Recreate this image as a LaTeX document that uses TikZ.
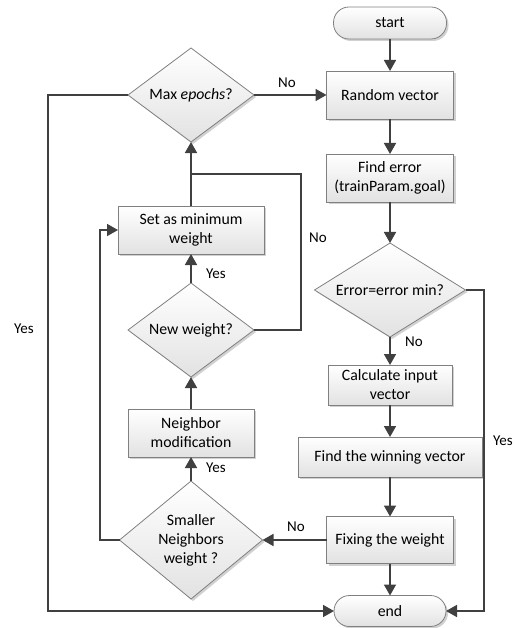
\documentclass[tikz,border=0pt]{standalone}
\usepackage{fontspec}
\setmainfont{Carlito}
\usetikzlibrary{shapes.geometric,arrows.meta,shadows}
\definecolor{lineC}{HTML}{404040}
\definecolor{bordC}{HTML}{808080}
\definecolor{botC}{HTML}{E2E2E2}
\tikzset{
  base/.style={draw=bordC, line width=0.8pt, top color=white, bottom color=botC,
    drop shadow={shadow xshift=2pt, shadow yshift=-2pt, fill=black!18, opacity=1},
    font=\fontsize{15.8}{19}\selectfont, align=center, inner sep=0pt, outer sep=0pt},
  procbox/.style={base, rectangle, minimum width=#1, minimum height=48pt},
  termbox/.style={base, rectangle, rounded corners=15.5pt, minimum width=#1, minimum height=31pt},
  dia/.style={base, diamond, minimum width=#1},
  conn/.style={draw=lineC, line width=1.7pt, -{Triangle[length=11pt,width=12pt]}},
  plain/.style={draw=lineC, line width=1.7pt},
  lab/.style={font=\fontsize{15}{18}\selectfont, inner sep=0pt},
  dtext/.style={font=\fontsize{15.8}{19}\selectfont, align=center}
}
\begin{document}
\begin{tikzpicture}[x=1pt,y=-1pt]
\useasboundingbox (0,0) rectangle (514,628);
% right column
\node[termbox=113pt, minimum height=32pt] (start) at (390,23) {start};
\node[procbox=127pt] (rv) at (390,95) {Random vector};
\node[procbox=127pt] (fe) at (390,178) {Find error\\(trainParam.goal)};
\node[dia=151pt, minimum height=94pt, label={[dtext]center:Error=error min?}] (err) at (390,290) {};
\node[procbox=124pt, minimum height=40pt] (calc) at (390,385) {Calculate input\\vector};
\node[procbox=184pt, minimum height=40pt] (win) at (390,457) {Find the winning vector};
\node[procbox=127pt, minimum height=47pt] (fix) at (390,540) {Fixing the weight};
\node[termbox=112pt] (end) at (390,611) {end};
% left column
\node[dia=126pt, minimum height=94pt, label={[dtext]center:Max \textit{epochs}?}] (max) at (191,95) {};
\node[procbox=146pt] (setmin) at (191,230) {Set as minimum\\weight};
\node[dia=126pt, minimum height=94pt, label={[dtext]center:New weight?}] (neww) at (191,330) {};
\node[procbox=126pt] (neigh) at (191,433) {Neighbor\\modification};
\node[dia=143pt, minimum height=118pt, label={[dtext]center:Smaller\\Neighbors\\weight ?}] (small) at (191,540) {};
% helper coordinates
\coordinate (lx1) at (48,95);
\coordinate (lx2) at (48,611);
\coordinate (rx1) at (484,290);
\coordinate (rx2) at (484,611);
\coordinate (sx1) at (100,540);
\coordinate (sx2) at (100,230);
\coordinate (nx1) at (301,330);
\coordinate (nx2) at (301,174);
\coordinate (nx3) at (191,174);
% connectors
\draw[conn] (start) -- (rv);
\draw[conn] (rv) -- (fe);
\draw[conn] (fe) -- (err);
\draw[conn] (err) -- (calc);
\draw[conn] (calc) -- (win);
\draw[conn] (win) -- (fix);
\draw[conn] (fix) -- (end);
\draw[conn] (fix) -- (small);
\draw[conn] (small) -- (neigh);
\draw[conn] (neigh) -- (neww);
\draw[conn] (neww) -- (setmin);
\draw[conn] (setmin) -- (max);
\draw[plain] (neww.east) -- (nx1) -- (nx2) -- (nx3);
\draw[conn] (max) -- (rv);
\draw[conn] (max.west) -- (lx1) -- (lx2) -- (end.west);
\draw[conn] (err.east) -- (rx1) -- (rx2) -- (end.east);
\draw[conn] (small.west) -- (sx1) -- (sx2) -- (setmin.west);
% labels
\node[lab] (l1) at (287,83) {No};
\node[lab] (l2) at (318,238) {No};
\node[lab] (l3) at (414,342) {No};
\node[lab] (l4) at (296,527) {No};
\node[lab] (l5) at (216,274) {Yes};
\node[lab] (l6) at (216,468) {Yes};
\node[lab] (l7) at (24,329) {Yes};
\node[lab] (l8) at (503,441) {Yes};
\end{tikzpicture}
\end{document}
